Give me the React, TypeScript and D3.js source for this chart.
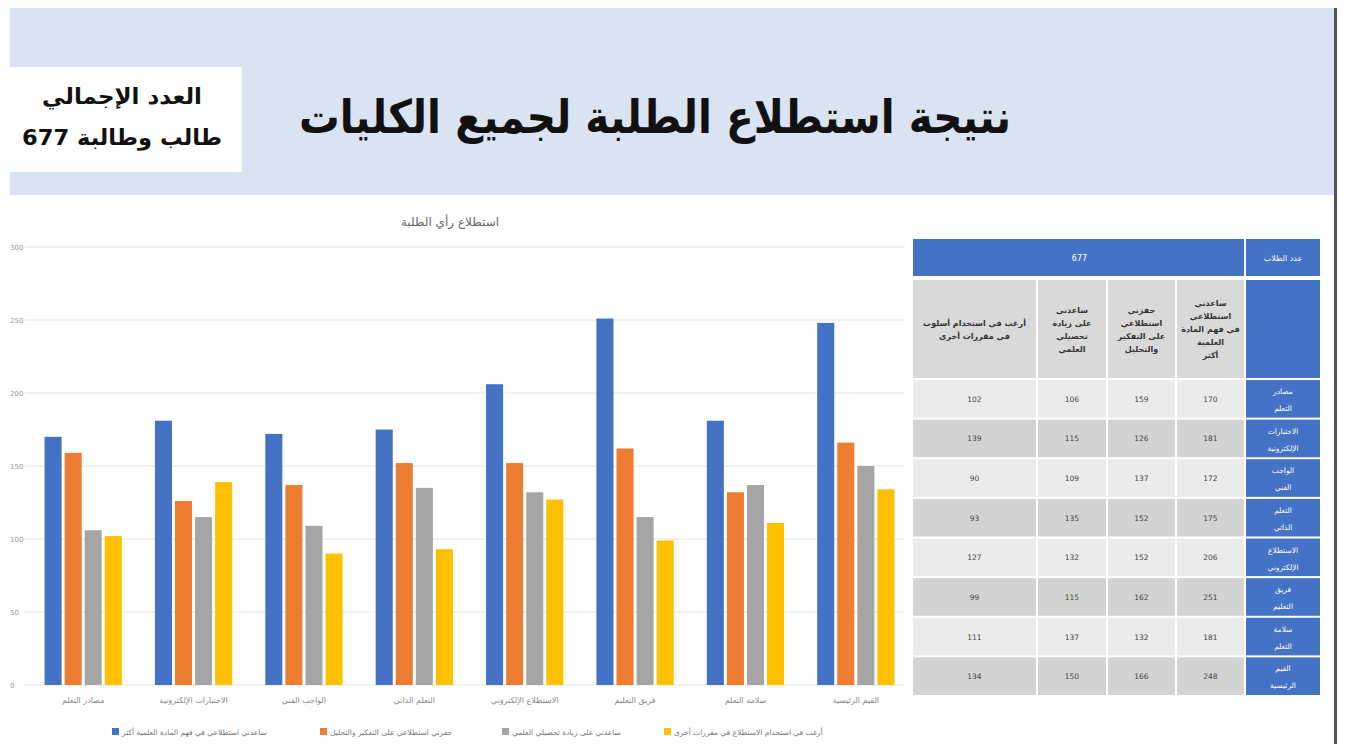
import React from "react";
import * as d3 from "d3";

const categories = [
  "مصادر التعلم",
  "الاختبارات الإلكترونية",
  "الواجب الفني",
  "التعلم الذاتي",
  "الاستطلاع الإلكتروني",
  "فريق التعليم",
  "سلامة التعلم",
  "القيم الرئيسية",
];
const rowLabels = [
  ["مصادر", "التعلم"],
  ["الاختبارات", "الإلكترونية"],
  ["الواجب", "الفني"],
  ["التعلم", "الذاتي"],
  ["الاستطلاع", "الإلكتروني"],
  ["فريق", "التعليم"],
  ["سلامة", "التعلم"],
  ["القيم", "الرئيسية"],
];
const seriesNames = [
  "ساعدني استطلاعي في فهم المادة العلمية أكثر",
  "حفزني استطلاعي على التفكير والتحليل",
  "ساعدني على زيادة تحصيلي العلمي",
  "أرغب في استخدام الاستطلاع في مقررات أخرى",
];
const seriesHeaders = [
  ["ساعدني", "استطلاعي", "في فهم المادة", "العلمية", "أكثر"],
  ["حفزني", "استطلاعي", "على التفكير", "والتحليل"],
  ["ساعدني", "على زيادة", "تحصيلي", "العلمي"],
  ["أرغب في استخدام أسلوب", "في مقررات أخرى"],
];
const blueValues = [170, 181, 172, 175, 206, 251, 181, 248];
const orangeValues = [159, 126, 137, 152, 152, 162, 132, 166];
const greyValues = [106, 115, 109, 135, 132, 115, 137, 150];
const yellowValues = [102, 139, 90, 93, 127, 99, 111, 134];
const yTicks = [0, 50, 100, 150, 200, 250, 300];
const totalStudents = "677";

const colors = ["#4472c4", "#ed7d31", "#a5a5a5", "#ffc000"];
const FONT = "'DejaVu Sans', sans-serif";

export default function App() {
  const series = [blueValues, orangeValues, greyValues, yellowValues];
  const keys = ["s0", "s1", "s2", "s3"];
  const x0 = d3.scaleBand<string>().domain(categories).range([28, 911]).paddingInner(0.3).paddingOuter(0.15);
  const x1 = d3.scaleBand<string>().domain(keys).range([0, x0.bandwidth()]).paddingInner(0.15);
  const y = d3.scaleLinear().domain([0, 300]).range([685, 247]);

  const colEdges = [913, 1038, 1108, 1177, 1246, 1320];
  const h1 = [239, 276];
  const h2 = [280, 378];
  const rowTop = 380;
  const rowH = (697 - rowTop) / 8;
  const colSeries = [3, 2, 1, 0];

  const legendPos = [
    { x: 112 },
    { x: 320 },
    { x: 502 },
    { x: 664 },
  ];

  return (
    <svg width={1359} height={744} style={{ position: "absolute", left: 0, top: 0, background: "#fff" }} fontFamily={FONT}>
      <rect x={0} y={0} width={1359} height={744} fill="#fff" />
      <rect x={10} y={8} width={1325} height={187} fill="#dae3f1" />
      <rect x={10} y={67} width={232} height={105} fill="#ffffff" />
      <text x={122} y={104} textAnchor="middle" fontSize={22} fontWeight="bold" fill="#111" textLength={160} lengthAdjust="spacingAndGlyphs">العدد الإجمالي</text>
      <text x={122} y={145} textAnchor="middle" fontSize={22} fontWeight="bold" fill="#111" direction="rtl" textLength={200} lengthAdjust="spacingAndGlyphs">{"طالب وطالبة " + totalStudents}</text>
      <text x={655} y={133} textAnchor="middle" fontSize={46} fontWeight="bold" fill="#111" textLength={712} lengthAdjust="spacingAndGlyphs">نتيجة استطلاع الطلبة لجميع الكليات</text>
      <rect x={1334} y={8} width={3} height={736} fill="#555" />

      <text x={450} y={226} textAnchor="middle" fontSize={12} fill="#666">استطلاع رأي الطلبة</text>

      {yTicks.map((t) => (
        <g key={t}>
          <line x1={25} x2={905} y1={y(t)} y2={y(t)} stroke="#e6e6e6" strokeWidth={1} />
          <text x={10} y={y(t) + 3} fontSize={7} fill="#999">{t}</text>
        </g>
      ))}

      {categories.map((c, ci) => (
        <g key={c} transform={`translate(${x0(c)},0)`}>
          {series.map((vals, si) => (
            <rect
              key={si}
              x={x1(keys[si])}
              y={y(vals[ci])}
              width={x1.bandwidth()}
              height={y(0) - y(vals[ci])}
              fill={colors[si]}
            />
          ))}
          <text x={x0.bandwidth() / 2} y={703} textAnchor="middle" fontSize={8} fill="#888">{c}</text>
        </g>
      ))}

      {seriesNames.map((n, i) => (
        <g key={n}>
          <rect x={legendPos[i].x} y={728} width={7} height={7} fill={colors[i]} />
          <text x={legendPos[i].x + 10} y={735} fontSize={7.5} fill="#777">{n}</text>
        </g>
      ))}

      <rect x={colEdges[0]} y={h1[0]} width={colEdges[4] - colEdges[0] - 2} height={h1[1] - h1[0]} fill="#4472c4" />
      <rect x={colEdges[4]} y={h1[0]} width={colEdges[5] - colEdges[4]} height={h1[1] - h1[0]} fill="#4472c4" />
      <text x={(colEdges[0] + colEdges[4]) / 2} y={261} textAnchor="middle" fontSize={8} fill="#fff">{totalStudents}</text>
      <text x={(colEdges[4] + colEdges[5]) / 2} y={261} textAnchor="middle" fontSize={8} fill="#fff">عدد الطلاب</text>

      {colSeries.map((si, ci) => {
        const x = colEdges[ci];
        const w = colEdges[ci + 1] - colEdges[ci] - 2;
        const lines = seriesHeaders[si];
        const lh = 13;
        const cy = (h2[0] + h2[1]) / 2;
        const start = cy - ((lines.length - 1) * lh) / 2 + 3;
        return (
          <g key={si}>
            <rect x={x} y={h2[0]} width={w} height={h2[1] - h2[0]} fill="#d9d9d9" />
            {lines.map((l, li) => (
              <text key={li} x={x + w / 2} y={start + li * lh} textAnchor="middle" fontSize={8} fontWeight="bold" fill="#333">{l}</text>
            ))}
          </g>
        );
      })}
      <rect x={colEdges[4]} y={h2[0]} width={colEdges[5] - colEdges[4]} height={h2[1] - h2[0]} fill="#4472c4" />

      {categories.map((c, ri) => {
        const top = rowTop + ri * rowH;
        const fill = ri % 2 === 0 ? "#ebebeb" : "#d3d3d3";
        return (
          <g key={c}>
            {colSeries.map((si, ci) => {
              const x = colEdges[ci];
              const w = colEdges[ci + 1] - colEdges[ci] - 2;
              return (
                <g key={si}>
                  <rect x={x} y={top} width={w} height={rowH - 2} fill={fill} />
                  <text x={x + w / 2} y={top + rowH / 2 + 2} textAnchor="middle" fontSize={7.5} fill="#444">{series[si][ri]}</text>
                </g>
              );
            })}
            <rect x={colEdges[4]} y={top} width={colEdges[5] - colEdges[4]} height={rowH - 2} fill="#4472c4" />
            <text x={(colEdges[4] + colEdges[5]) / 2} y={top + 14} textAnchor="middle" fontSize={7.5} fill="#fff">{rowLabels[ri][0]}</text>
            <text x={(colEdges[4] + colEdges[5]) / 2} y={top + 31} textAnchor="middle" fontSize={7.5} fill="#fff">{rowLabels[ri][1]}</text>
          </g>
        );
      })}
    </svg>
  );
}
